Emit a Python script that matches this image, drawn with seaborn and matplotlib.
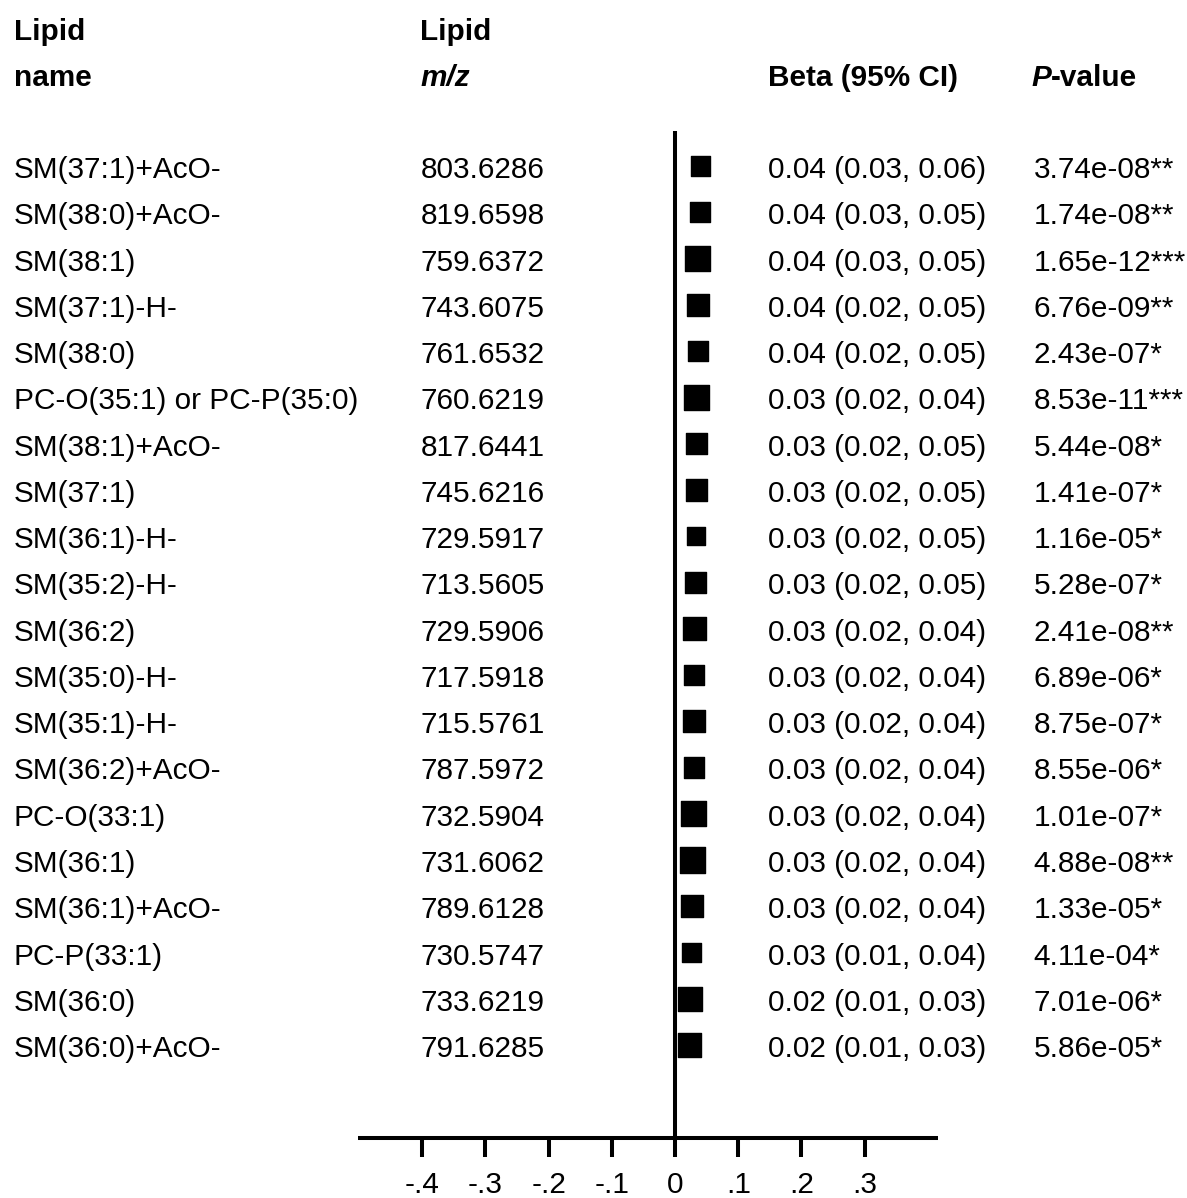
import matplotlib
matplotlib.use("Agg")
import matplotlib.pyplot as plt
import matplotlib.transforms as mtransforms
import pandas as pd
import seaborn as sns

# ---- data -----------------------------------------------------------------
lipid_names = [
    "SM(37:1)+AcO-", "SM(38:0)+AcO-", "SM(38:1)", "SM(37:1)-H-", "SM(38:0)",
    "PC-O(35:1) or PC-P(35:0)", "SM(38:1)+AcO-", "SM(37:1)", "SM(36:1)-H-",
    "SM(35:2)-H-", "SM(36:2)", "SM(35:0)-H-", "SM(35:1)-H-", "SM(36:2)+AcO-",
    "PC-O(33:1)", "SM(36:1)", "SM(36:1)+AcO-", "PC-P(33:1)", "SM(36:0)",
    "SM(36:0)+AcO-",
]
lipid_mz = [
    "803.6286", "819.6598", "759.6372", "743.6075", "761.6532", "760.6219",
    "817.6441", "745.6216", "729.5917", "713.5605", "729.5906", "717.5918",
    "715.5761", "787.5972", "732.5904", "731.6062", "789.6128", "730.5747",
    "733.6219", "791.6285",
]
beta = [
    0.041, 0.039, 0.036, 0.036, 0.036, 0.034, 0.034, 0.034, 0.033, 0.033,
    0.031, 0.030, 0.030, 0.030, 0.029, 0.028, 0.027, 0.026, 0.024, 0.023,
]
ci_low = [
    0.03, 0.03, 0.03, 0.02, 0.02, 0.02, 0.02, 0.02, 0.02, 0.02,
    0.02, 0.02, 0.02, 0.02, 0.02, 0.02, 0.02, 0.01, 0.01, 0.01,
]
ci_high = [
    0.06, 0.05, 0.05, 0.05, 0.05, 0.04, 0.05, 0.05, 0.05, 0.05,
    0.04, 0.04, 0.04, 0.04, 0.04, 0.04, 0.04, 0.04, 0.03, 0.03,
]
p_values = [
    "3.74e-08", "1.74e-08", "1.65e-12", "6.76e-09", "2.43e-07", "8.53e-11",
    "5.44e-08", "1.41e-07", "1.16e-05", "5.28e-07", "2.41e-08", "6.89e-06",
    "8.75e-07", "8.55e-06", "1.01e-07", "4.88e-08", "1.33e-05", "4.11e-04",
    "7.01e-06", "5.86e-05",
]
p_stars = [
    "**", "**", "***", "**", "*", "***", "*", "*", "*", "*",
    "**", "*", "*", "*", "*", "**", "*", "*", "*", "*",
]
# relative study weight (drives the area of each square)
weight = [
    4.0, 4.4, 6.8, 5.2, 4.4, 6.8, 5.2, 5.0, 3.7, 4.8,
    6.1, 4.7, 5.3, 4.8, 6.8, 7.1, 5.3, 4.0, 6.6, 6.1,
]
xticks = [-0.4, -0.3, -0.2, -0.1, 0.0, 0.1, 0.2, 0.3]
xtick_labels = ["-.4", "-.3", "-.2", "-.1", "0", ".1", ".2", ".3"]

df = pd.DataFrame({
    "name": lipid_names, "mz": lipid_mz, "beta": beta,
    "lo": ci_low, "hi": ci_high, "p": p_values, "stars": p_stars,
    "weight": weight,
})
df["row"] = range(len(df))

# ---- style ----------------------------------------------------------------
sns.set_theme(style="white")
plt.rcParams["font.family"] = ["Liberation Sans", "DejaVu Sans"]
plt.rcParams["text.color"] = "black"
plt.rcParams["axes.labelcolor"] = "black"
FS = 21.4
LW = 2.9

W, H = 1187, 1198
fig = plt.figure(figsize=(W / 100, H / 100), dpi=100)
fig.patch.set_facecolor("white")

ax_left, ax_right = 357.7, 937.7
ax_top, ax_bottom = 131, 1138
ax = fig.add_axes([ax_left / W, (H - ax_bottom) / H,
                   (ax_right - ax_left) / W, (ax_bottom - ax_top) / H])
ax.set_facecolor("none")

# ---- forest squares (slightly rounded corners via a thin round-joined edge)
wmax = 8.0
sns.scatterplot(
    data=df, x="beta", y="row", size="weight",
    sizes=(0, wmax * 47.0), size_norm=(0, wmax),
    marker="s", color="black", edgecolor="black", linewidth=1.0,
    legend=False, ax=ax, zorder=3,
)
for coll in ax.collections:
    coll.set_joinstyle("round")
ax.axvline(0, color="black", lw=LW, zorder=2, solid_capstyle="butt")

ax.set_xlim(-0.502, 0.4155)
ax.set_ylim(21.01, -0.757)
ax.set_xticks(xticks)
ax.set_xticklabels(xtick_labels, fontsize=FS)
ax.set_yticks([])
ax.set_xlabel("")
ax.set_ylabel("")
for side in ["top", "left", "right"]:
    ax.spines[side].set_visible(False)
ax.spines["bottom"].set_linewidth(LW)
ax.spines["bottom"].set_color("black")
ax.spines["bottom"].set_capstyle("butt")
ax.tick_params(axis="x", bottom=True, direction="out", length=13.7, width=LW,
               color="black", pad=10, labelcolor="black")
ax.grid(False)

# ---- table columns --------------------------------------------------------
row_tf = mtransforms.blended_transform_factory(fig.transFigure, ax.transData)
col_name, col_mz, col_beta, col_p = 13.5 / W, 420.5 / W, 768.0 / W, 1033.5 / W
base_off = 0.26

for _, r in df.iterrows():
    y = r["row"] + base_off
    fig.text(col_name, y, r["name"], transform=row_tf, fontsize=FS,
             va="baseline", ha="left")
    fig.text(col_mz, y, r["mz"], transform=row_tf, fontsize=FS,
             va="baseline", ha="left")
    fig.text(col_beta, y, f"{r['beta']:.2f} ({r['lo']:.2f}, {r['hi']:.2f})",
             transform=row_tf, fontsize=FS, va="baseline", ha="left")
    fig.text(col_p, y, f"{r['p']}{r['stars']}", transform=row_tf,
             fontsize=FS, va="baseline", ha="left")

# ---- headers --------------------------------------------------------------
hy1 = 1 - 40.5 / H
hy2 = 1 - 86 / H
fig.text(col_name, hy1, "Lipid", fontsize=FS, fontweight="bold", va="baseline")
fig.text(col_name, hy2, "name", fontsize=FS, fontweight="bold", va="baseline")
fig.text(col_mz, hy1, "Lipid", fontsize=FS, fontweight="bold", va="baseline")
fig.text(col_mz, hy2, "m/z", fontsize=FS, fontweight="bold",
         fontstyle="italic", va="baseline")
fig.text(col_beta, hy2, "Beta (95% CI)", fontsize=FS, fontweight="bold",
         va="baseline")
p_txt = fig.text(1031.5 / W, hy2, "P", fontsize=FS, fontweight="bold",
                 fontstyle="italic", va="baseline")
fig.add_artist(matplotlib.text.Annotation(
    "-value", xy=(1, 0), xycoords=p_txt, fontsize=FS, fontweight="bold",
    va="bottom", ha="left", color="black"))

fig.savefig("out.png", dpi=100, facecolor="white")
